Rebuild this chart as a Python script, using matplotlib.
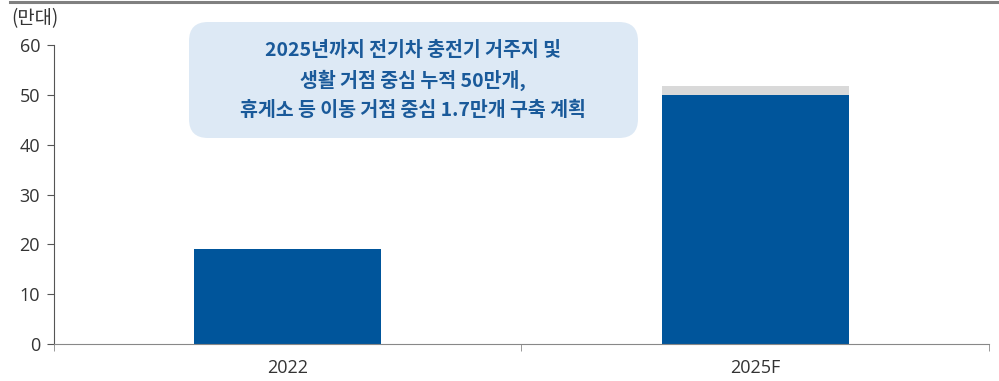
import matplotlib
matplotlib.use("Agg")
import matplotlib.pyplot as plt
from matplotlib.patches import FancyBboxPatch
from matplotlib.lines import Line2D

plt.rcParams['font.family'] = ['Open Sans', 'Noto Sans CJK KR', 'DejaVu Sans']

# Charger rollout (unit: 10,000 units)
categories = ["2022", "2025F"]
residential = [19.0, 50.0]
highway = [0.0, 1.7]

unit_label = "(만대)"
note_lines = [
    "2025년까지 전기차 충전기 거주지 및",
    "생활 거점 중심 누적 50만개,",
    "휴게소 등 이동 거점 중심 1.7만개 구축 계획",
]

blue = "#00559B"
grey = "#D9D9D9"
text_col = "#333333"

fig = plt.figure(figsize=(9.99, 3.81), dpi=100)
ax = fig.add_axes([0.054, 0.097, 0.936, 0.785])

x = list(range(len(categories)))
ax.bar(x, residential, width=0.4, color=blue, zorder=2)
ax.bar(x, highway, width=0.4, bottom=residential, color=grey, zorder=2)

ax.set_xlim(-0.5, 1.5)
ax.set_ylim(0, 60)
ax.set_yticks(range(0, 61, 10))
ax.set_xticks(x)
ax.set_xticklabels(categories)
ax.set_xticks([-0.5, 0.5, 1.5], minor=True)
ax.tick_params(axis='x', which='major', length=0, pad=11, labelsize=13, labelcolor=text_col)
ax.tick_params(axis='x', which='minor', length=5, color="#888888", direction='out')
ax.tick_params(axis='y', length=5, color="#555555", labelsize=13, labelcolor=text_col, pad=5)

for s in ("top", "right"):
    ax.spines[s].set_visible(False)
ax.spines["left"].set_color("#555555")
ax.spines["bottom"].set_color("#888888")

# header rule and unit
fig.add_artist(Line2D([0.01, 1.0], [0.995, 0.995], transform=fig.transFigure,
                      color="#808080", lw=2.2))
fig.text(0.011, 0.952, unit_label, fontsize=13.5, color=text_col, va="center", ha="left",
         family=['Noto Sans CJK KR', 'DejaVu Sans'])

# note box
bx0, by0, bw, bh = 189 / 999, 1 - 138 / 381, (638 - 189) / 999, (138 - 22) / 381
box = FancyBboxPatch((bx0, by0), bw, bh, transform=fig.transFigure,
                     boxstyle="round,pad=0,rounding_size=0.019",
                     mutation_aspect=999 / 381,
                     facecolor="#DDE9F5", edgecolor="none", zorder=3)
fig.add_artist(box)
for i, line in enumerate(note_lines):
    fig.text(413 / 999, 1 - (50 + 30 * i) / 381, line, ha="center", va="center",
             fontsize=14, fontweight="bold", color="#1A5A9A", zorder=4,
             family=['Noto Sans CJK KR', 'DejaVu Sans'])

fig.savefig("out.png", dpi=100)
